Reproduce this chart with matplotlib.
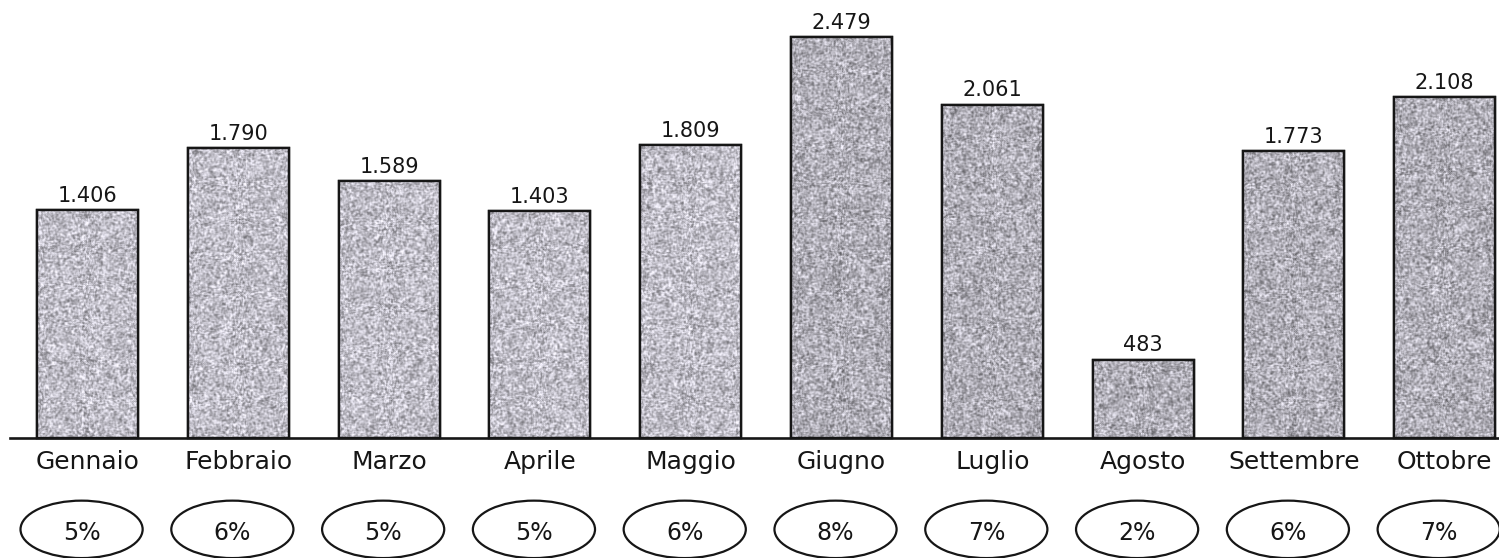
import numpy as np
import matplotlib
matplotlib.use("Agg")
import matplotlib.pyplot as plt
from matplotlib.patches import Ellipse

mesi = ["Gennaio", "Febbraio", "Marzo", "Aprile", "Maggio", "Giugno",
        "Luglio", "Agosto", "Settembre", "Ottobre"]
valori = [1406, 1790, 1589, 1403, 1809, 2479, 2061, 483, 1773, 2108]
etichette = ["1.406", "1.790", "1.589", "1.403", "1.809", "2.479",
             "2.061", "483", "1.773", "2.108"]
percentuali = ["5%", "6%", "5%", "5%", "6%", "8%", "7%", "2%", "6%", "7%"]

plt.rcParams["font.family"] = "DejaVu Sans"
nero = "#161616"

fig = plt.figure(figsize=(14.99, 5.58), dpi=100)
ax = fig.add_axes([0, 0, 1, 1])
ax.axis("off")

x = np.arange(len(mesi))
larghezza = 0.67
barre = ax.bar(x, valori, width=larghezza, color="#b4b3bb",
               edgecolor=nero, linewidth=1.7, zorder=2)


def grana(ny, nx, rng):
    # rumore leggermente ammorbidito, effetto fotocopia
    t = rng.random((ny + 2, nx + 2))
    s = (t[1:-1, 1:-1] * 2 + t[:-2, 1:-1] + t[2:, 1:-1]
         + t[1:-1, :-2] + t[1:-1, 2:]) / 6
    s = (s - s.mean()) / s.std()
    return s


rng = np.random.default_rng(7)
for i, b in enumerate(barre):
    h = b.get_height()
    ny = max(int(h / 6), 10)
    s = grana(ny, 100, rng)
    base = 0.76 if i < 5 else 0.70
    g = np.clip(base + 0.11 * s, 0.4, 1.0)
    img = np.stack([g * 0.99, g * 0.98, g * 1.03], axis=-1).clip(0, 1)
    im = ax.imshow(img, extent=[b.get_x(), b.get_x() + larghezza, 0, h],
                   aspect="auto", interpolation="bilinear", zorder=2.5)
    im.set_clip_path(b)
    ax.bar(b.get_x() + larghezza / 2, h, width=larghezza, fill=False,
           edgecolor=nero, linewidth=1.7, zorder=3)

for xi, v, lab in zip(x, valori, etichette):
    ax.annotate(lab, (xi, v), xytext=(0, 6), textcoords="offset points",
                ha="center", va="baseline", fontsize=15, color=nero)

# linea di base
ax.plot([-0.515, 9.4], [0, 0], color=nero, linewidth=1.9, zorder=4)

for xi, m, p in zip(x, mesi, percentuali):
    ax.text(xi, -192, m, ha="center", va="baseline", fontsize=18,
            color=nero)
    ax.add_patch(Ellipse((xi - 0.04, -565), 0.81, 355, fill=False,
                         edgecolor=nero, linewidth=1.6))
    ax.text(xi - 0.04, -633, p, ha="center", va="baseline", fontsize=17,
            color=nero)

ax.set_xlim(-0.581, 9.36)
ax.set_ylim(-742, 2707)

fig.savefig("out.png", dpi=100, facecolor="white")
